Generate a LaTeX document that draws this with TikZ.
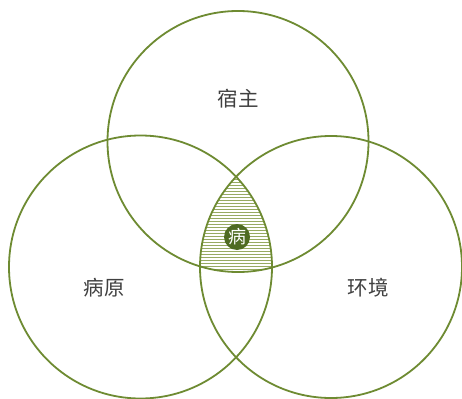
\documentclass[tikz,border=0pt]{standalone}
\usepackage{fontspec}
\newfontfamily\cjk{Noto Sans CJK SC}
\definecolor{ring}{HTML}{6E8B32}
\definecolor{hatch}{HTML}{97AA62}
\definecolor{dark}{HTML}{4F6B22}
\tikzset{
  ring/.style={draw=ring, line width=1.8pt},
  lbl/.style={font=\cjk\fontsize{20.5}{20.5}\selectfont, text=black!75},
}
\begin{document}
\begin{tikzpicture}[x=1pt,y=-1pt]
\useasboundingbox[fill=white] (0,0) rectangle (462,398);
\coordinate (ct) at (238,141.5);
\coordinate (cl) at (140.5,267);
\coordinate (cr) at (331,267);
\begin{scope}
  \clip (ct) circle (130.5);
  \clip (cl) circle (131.5);
  \clip (cr) circle (131);
  \foreach \yy in {170,173,...,275}{
    \draw[hatch, line width=0.6pt] (190,\yy) -- (290,\yy);
  }
\end{scope}
\draw[ring] (ct) circle (130.5);
\draw[ring] (cl) circle (131.5);
\draw[ring] (cr) circle (131);
\node[lbl] (host) at (238,99) {宿主};
\node[lbl] (path) at (104,288) {病原};
\node[lbl] (env) at (368,288) {环境};
\node[circle, fill=dark, minimum size=26pt, inner sep=0pt, text=white, font=\cjk\fontsize{18}{18}\selectfont] (dis) at (237,237) {病};
\end{tikzpicture}
\end{document}
